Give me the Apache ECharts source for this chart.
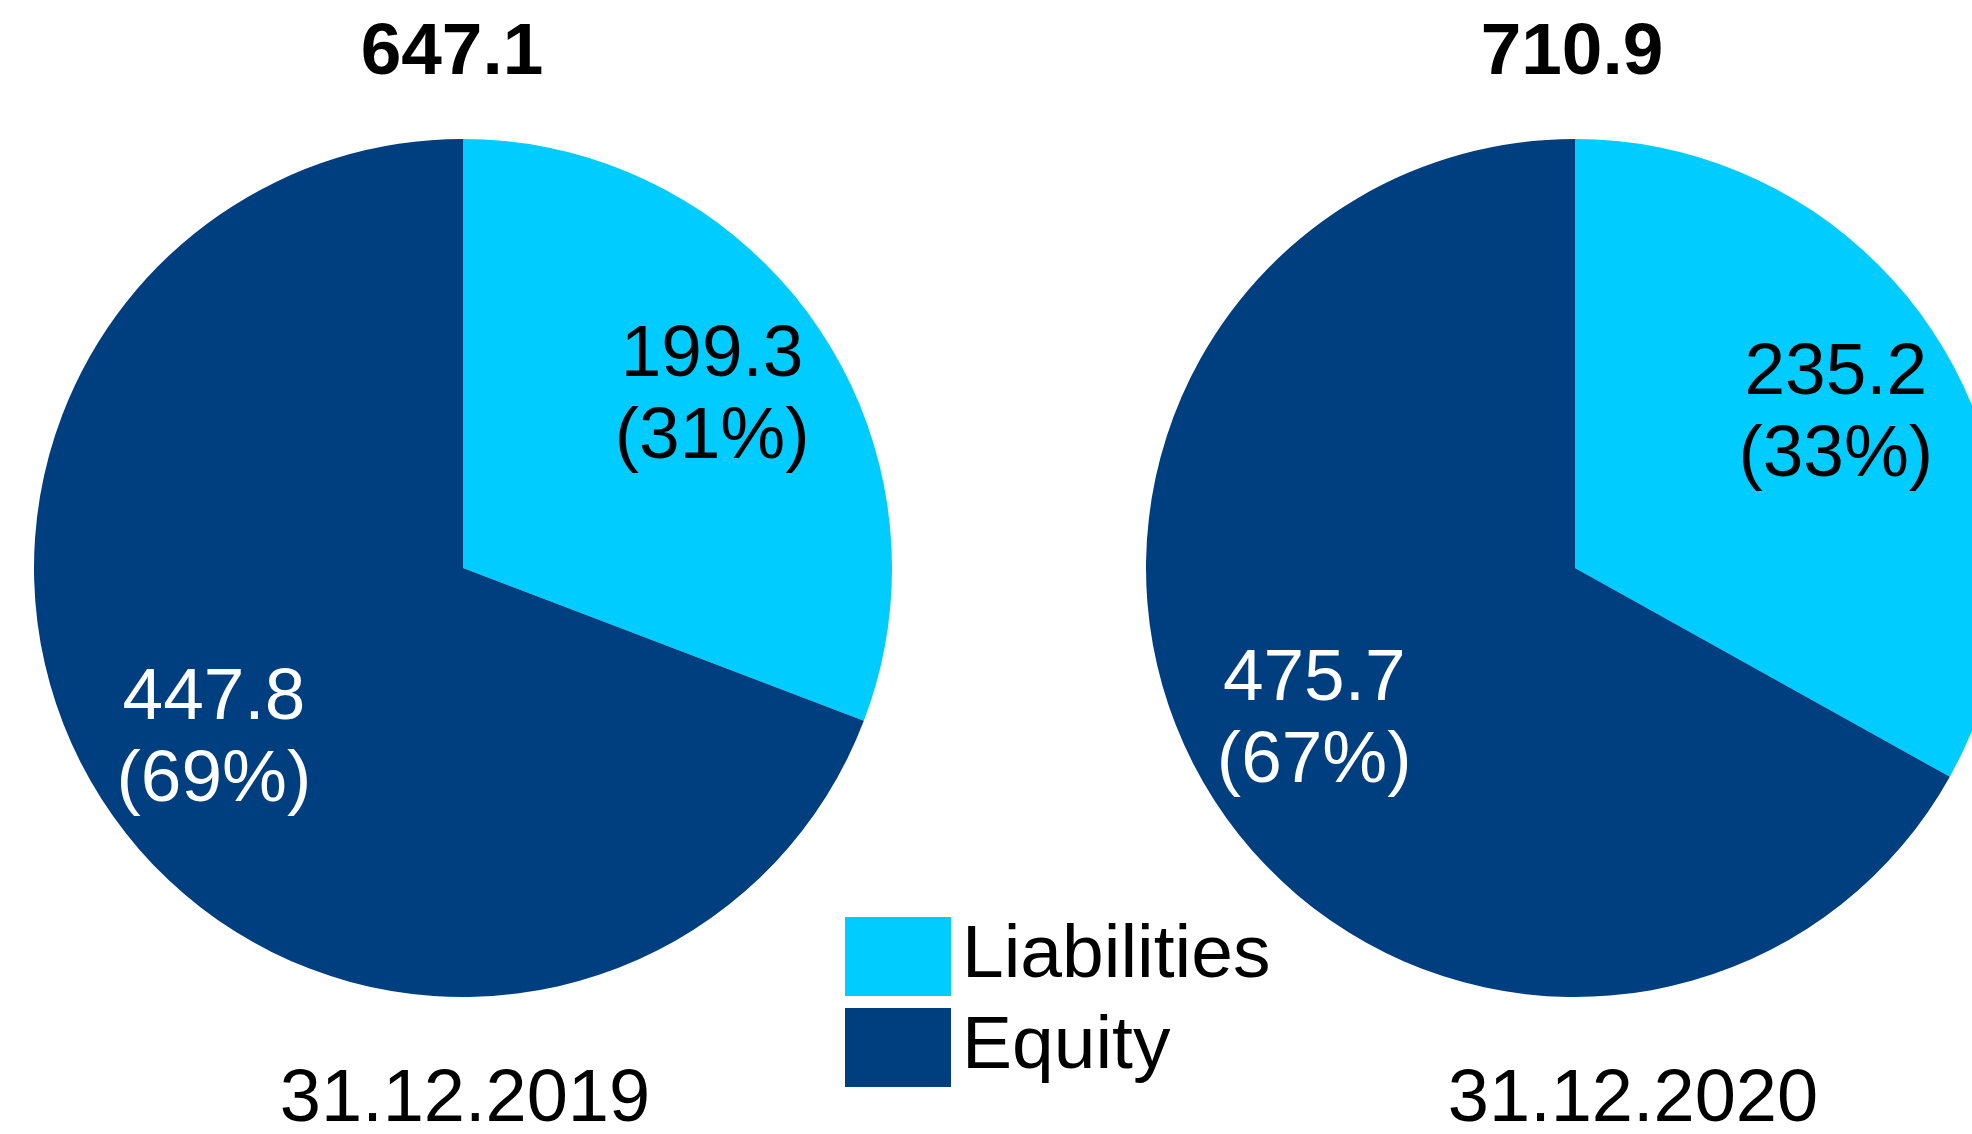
<!DOCTYPE html>
<html>
<head>
<meta charset="utf-8">
<title>Liabilities and equity</title>
<script src="https://cdn.jsdelivr.net/npm/echarts@6/dist/echarts.min.js"></script>
<style>
  html, body { margin: 0; padding: 0; background: #fff; }
  #chart { width: 1972px; height: 1134px; }
</style>
</head>
<body>
<div id="chart"></div>
<script>
// data
var categories = ["Liabilities", "Equity"];
var dates = ["31.12.2019", "31.12.2020"];
var values2019 = [199.3, 447.8];
var values2020 = [235.2, 475.7];

var colors = ["#00CCFF", "#003F7F"];
var labelColors = ["#000000", "#ffffff"];
var font = "'Liberation Sans', Arial, sans-serif";

var pieR = 429;
var centers = [[463, 568], [1575, 568]];
var allValues = [values2019, values2020];

function sum(arr) {
  var s = 0;
  for (var i = 0; i < arr.length; i++) s += arr[i];
  return s;
}

function pieData(vals, withColor) {
  return categories.map(function (name, i) {
    return {
      name: name,
      value: vals[i],
      itemStyle: { color: withColor ? colors[i] : "transparent" },
      label: { color: labelColors[i] }
    };
  });
}

var series = [];
// the real pies
allValues.forEach(function (vals, k) {
  series.push({
    type: "pie",
    center: centers[k],
    radius: [0, pieR],
    startAngle: 90,
    clockwise: true,
    silent: true,
    animation: false,
    itemStyle: { borderWidth: 0 },
    label: { show: false },
    labelLine: { show: false },
    emphasis: { disabled: true },
    data: pieData(vals, true)
  });
});
// invisible ring on top, only to put the labels further out
allValues.forEach(function (vals, k) {
  series.push({
    type: "pie",
    center: centers[k],
    radius: [170, pieR],
    startAngle: 90,
    clockwise: true,
    silent: true,
    animation: false,
    percentPrecision: 0,
    itemStyle: { borderWidth: 0 },
    label: {
      show: true,
      position: "inside",
      formatter: function (p) {
        return p.value.toFixed(1) + "\n(" + p.percent + "%)";
      },
      fontFamily: font,
      fontSize: 73,
      lineHeight: 82
    },
    labelLine: { show: false },
    emphasis: { disabled: true },
    data: pieData(vals, false)
  });
});

var myChart = echarts.init(document.getElementById("chart"), null, { renderer: "canvas" });

var option = {
  backgroundColor: "#ffffff",
  animation: false,
  color: colors,
  legend: {
    data: categories.map(function (name, i) {
      return { name: name, itemStyle: { color: colors[i] } };
    }),
    orient: "vertical",
    left: 845,
    top: 917,
    padding: 0,
    icon: "rect",
    itemWidth: 106,
    itemHeight: 79,
    itemGap: 12,
    selectedMode: false,
    textStyle: {
      fontFamily: font,
      fontSize: 75,
      color: "#000",
      padding: [0, 0, 0, 6]
    }
  },
  graphic: [
    {
      type: "text", x: 452, y: 54,
      style: {
        text: sum(values2019).toFixed(1), fill: "#000",
        font: "bold 73px " + font, textAlign: "center", textVerticalAlign: "middle"
      }
    },
    {
      type: "text", x: 1572, y: 54,
      style: {
        text: sum(values2020).toFixed(1), fill: "#000",
        font: "bold 73px " + font, textAlign: "center", textVerticalAlign: "middle"
      }
    },
    {
      type: "text", x: 465, y: 1101,
      style: {
        text: dates[0], fill: "#000",
        font: "74px " + font, textAlign: "center", textVerticalAlign: "middle"
      }
    },
    {
      type: "text", x: 1633, y: 1101,
      style: {
        text: dates[1], fill: "#000",
        font: "74px " + font, textAlign: "center", textVerticalAlign: "middle"
      }
    }
  ],
  series: series
};

myChart.setOption(option);
</script>
</body>
</html>
